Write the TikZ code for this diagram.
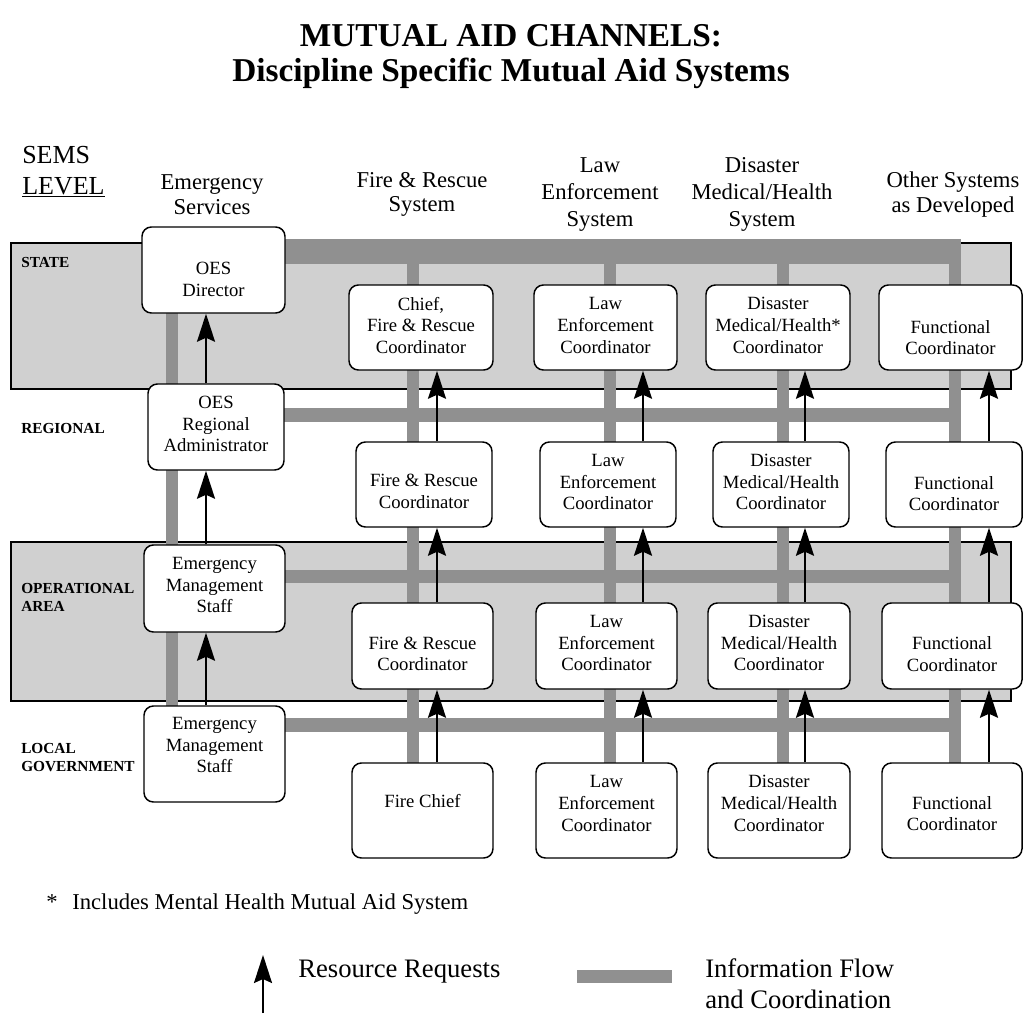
\documentclass[tikz,border=0pt]{standalone}
\usepackage{fontspec}
\setmainfont{Liberation Serif}
\usetikzlibrary{arrows.meta}
\definecolor{bandgray}{RGB}{208,208,208}
\definecolor{infogray}{RGB}{144,144,144}
\newcommand\mybox[7]{%
  \node[bx, minimum width={(#4-#2)*0.75pt}, minimum height={(#5-#3)*0.75pt}] (#1) at ({(#2+#4)/2},{(#3+#5)/2}) {};
  \node[bxt] (#1-t) at ({(#2+#4)/2},{(#3+#5)/2+(#7)}) {#6};}
\begin{document}
\begin{tikzpicture}[x=0.75pt,y=-0.75pt,
  bx/.style={draw, line width=1.1pt, rounded corners=7pt, fill=white, inner sep=0pt},
  bxt/.style={align=center, inner sep=0pt, font=\fontsize{14}{16.2}\selectfont},
  bandst/.style={fill=bandgray, draw=black, line width=0.9pt},
  infoh/.style={draw=infogray, line width=10pt},
  infov/.style={draw=infogray, line width=9pt},
  infotop/.style={draw=infogray, line width=18.75pt},
  req/.style={line width=1.5pt, -{Stealth[length=21pt,width=13.5pt,inset=3pt]}},
  hdr/.style={align=center, inner sep=0pt},
  lvl/.style={anchor=north west, align=left, inner sep=0pt, font=\fontsize{11.5}{13.5}\selectfont\bfseries},
  big/.style={anchor=base west, inner sep=0pt, font=\fontsize{20}{23}\selectfont},
  ttl/.style={anchor=base, inner sep=0pt, font=\fontsize{25}{29}\selectfont\bfseries},
]
\useasboundingbox (0,0) rectangle (1023,1013);

% title
\node[ttl] (title1) at (511,47) {MUTUAL AID CHANNELS:};
\node[ttl] (title2) at (511,82) {Discipline Specific Mutual Aid Systems};

% SEMS level
\node[anchor=base west, inner sep=0pt, font=\fontsize{19.5}{22}\selectfont] (sems) at (22,163) {SEMS};
\node[anchor=base west, inner sep=0pt, font=\fontsize{19.5}{22}\selectfont] (level) at (22,194) {\underline{LEVEL}};

% column headers
\node[hdr, font=\fontsize{17}{18.5}\selectfont] (hE) at (212,194.5) {Emergency\\Services};
\node[hdr, font=\fontsize{17}{18.5}\selectfont] (hF) at (422,194.5) {Fire \& Rescue\\System};
\node[hdr, font=\fontsize{17}{20}\selectfont] (hL) at (600,194.5) {Law\\Enforcement\\System};
\node[hdr, font=\fontsize{17}{20}\selectfont] (hM) at (762,194.5) {Disaster\\Medical/Health\\System};
\node[hdr, font=\fontsize{17}{18.5}\selectfont] (hO) at (953,194.5) {Other Systems\\as Developed};

% bands
\draw[bandst] (11,243) rectangle (1011,389);
\draw[bandst] (11,542) rectangle (1011,701);

% level labels
\node[lvl] (lState) at (21,256.6) {STATE};
\node[lvl] (lReg) at (21,422.6) {REGIONAL};
\node[lvl] (lOA) at (21,582.6) {OPERATIONAL\\AREA};
\node[lvl] (lLoc) at (21,742.6) {LOCAL\\GOVERNMENT};

% coordinates for channels
\coordinate (xE) at (171.5,0);
\coordinate (xF) at (413,0);
\coordinate (xL) at (609.5,0);
\coordinate (xM) at (782.5,0);
\coordinate (xO) at (955,0);
\coordinate (xOr) at (961,0);
\coordinate (yT) at (0,251.5);
\coordinate (yTt) at (0,239);
\coordinate (yR) at (0,415);
\coordinate (yA) at (0,576.5);
\coordinate (yG) at (0,725);
\coordinate (aE) at (206,0);
\coordinate (aF) at (437,0);
\coordinate (aL) at (643,0);
\coordinate (aM) at (805,0);
\coordinate (aO) at (989,0);

% information flow channels
\draw[infotop] (280,251.5) -- (xOr |- yT);
\draw[infov] (xO |- yTt) -- (955,770);
\draw[infov] (xF |- yT) -- (413,770);
\draw[infov] (xL |- yT) -- (609.5,770);
\draw[infov] (xM |- yT) -- (782.5,770);
\draw[infov] (171.5,305) -- (171.5,712);
\draw[infoh] (278,415) -- (xOr |- yR);
\draw[infoh] (278,576.5) -- (xOr |- yA);
\draw[infoh] (278,725) -- (xOr |- yG);

% boxes
\mybox{dir}{142}{227}{285}{313}{OES\\Director}{9.5}
\mybox{reg}{148}{384}{284}{470}{OES\\Regional\\Administrator}{-3}
\mybox{emA}{144}{545}{285}{632}{Emergency\\Management\\Staff}{-3.5}
\mybox{emG}{144}{706}{285}{802}{Emergency\\Management\\Staff}{-9}
\mybox{fS}{349}{285}{493}{370}{Chief,\\Fire \& Rescue\\Coordinator}{-2}
\mybox{fR}{356}{442}{492}{527}{Fire \& Rescue\\Coordinator}{7}
\mybox{fA}{352}{603}{493}{689}{Fire \& Rescue\\Coordinator}{8}
\mybox{fG}{352}{763}{493}{858}{Fire Chief}{-9}
\mybox{lS}{534}{285}{677}{370}{Law\\Enforcement\\Coordinator}{-2}
\mybox{lR}{540}{442}{676}{527}{Law\\Enforcement\\Coordinator}{-2.5}
\mybox{lA}{536}{603}{677}{689}{Law\\Enforcement\\Coordinator}{-3}
\mybox{lG}{536}{763}{677}{858}{Law\\Enforcement\\Coordinator}{-7}
\mybox{mS}{706}{285}{850}{370}{Disaster\\Medical/Health*\\Coordinator}{-2}
\mybox{mR}{713}{442}{849}{527}{Disaster\\Medical/Health\\Coordinator}{-2.5}
\mybox{mA}{708}{603}{850}{689}{Disaster\\Medical/Health\\Coordinator}{-3}
\mybox{mG}{708}{763}{850}{858}{Disaster\\Medical/Health\\Coordinator}{-7}
\mybox{oS}{879}{285}{1022}{370}{Functional\\Coordinator}{10}
\mybox{oR}{886}{442}{1022}{527}{Functional\\Coordinator}{9}
\mybox{oA}{882}{603}{1022}{689}{Functional\\Coordinator}{8}
\mybox{oG}{882}{763}{1022}{858}{Functional\\Coordinator}{3}

% resource request arrows
\draw[req] (reg.north -| aE) -- (dir.south -| aE);
\draw[req] (emA.north -| aE) -- (reg.south -| aE);
\draw[req] (emG.north -| aE) -- (emA.south -| aE);
\draw[req] (fR.north -| aF) -- (fS.south -| aF);
\draw[req] (fA.north -| aF) -- (fR.south -| aF);
\draw[req] (fG.north -| aF) -- (fA.south -| aF);
\draw[req] (lR.north -| aL) -- (lS.south -| aL);
\draw[req] (lA.north -| aL) -- (lR.south -| aL);
\draw[req] (lG.north -| aL) -- (lA.south -| aL);
\draw[req] (mR.north -| aM) -- (mS.south -| aM);
\draw[req] (mA.north -| aM) -- (mR.south -| aM);
\draw[req] (mG.north -| aM) -- (mA.south -| aM);
\draw[req] (oR.north -| aO) -- (oS.south -| aO);
\draw[req] (oA.north -| aO) -- (oR.south -| aO);
\draw[req] (oG.north -| aO) -- (oA.south -| aO);

% footnote
\node[anchor=base west, inner sep=0pt, font=\fontsize{17}{20}\selectfont] (star) at (46,909) {*};
\node[anchor=base west, inner sep=0pt, font=\fontsize{17}{20}\selectfont] (foot) at (72,909) {Includes Mental Health Mutual Aid System};

% legend
\coordinate (legA1) at (263,1013);
\coordinate (legA2) at (263,955);
\draw[req] (legA1) -- (legA2);
\node[big] (legR) at (298,977) {Resource Requests};
\coordinate (legB1) at (577,976.5);
\coordinate (legB2) at (672,976.5);
\draw[infoh] (legB1) -- (legB2);
\node[big] (legI1) at (705,977) {Information Flow};
\node[big] (legI2) at (705,1008) {and Coordination};
\end{tikzpicture}
\end{document}
